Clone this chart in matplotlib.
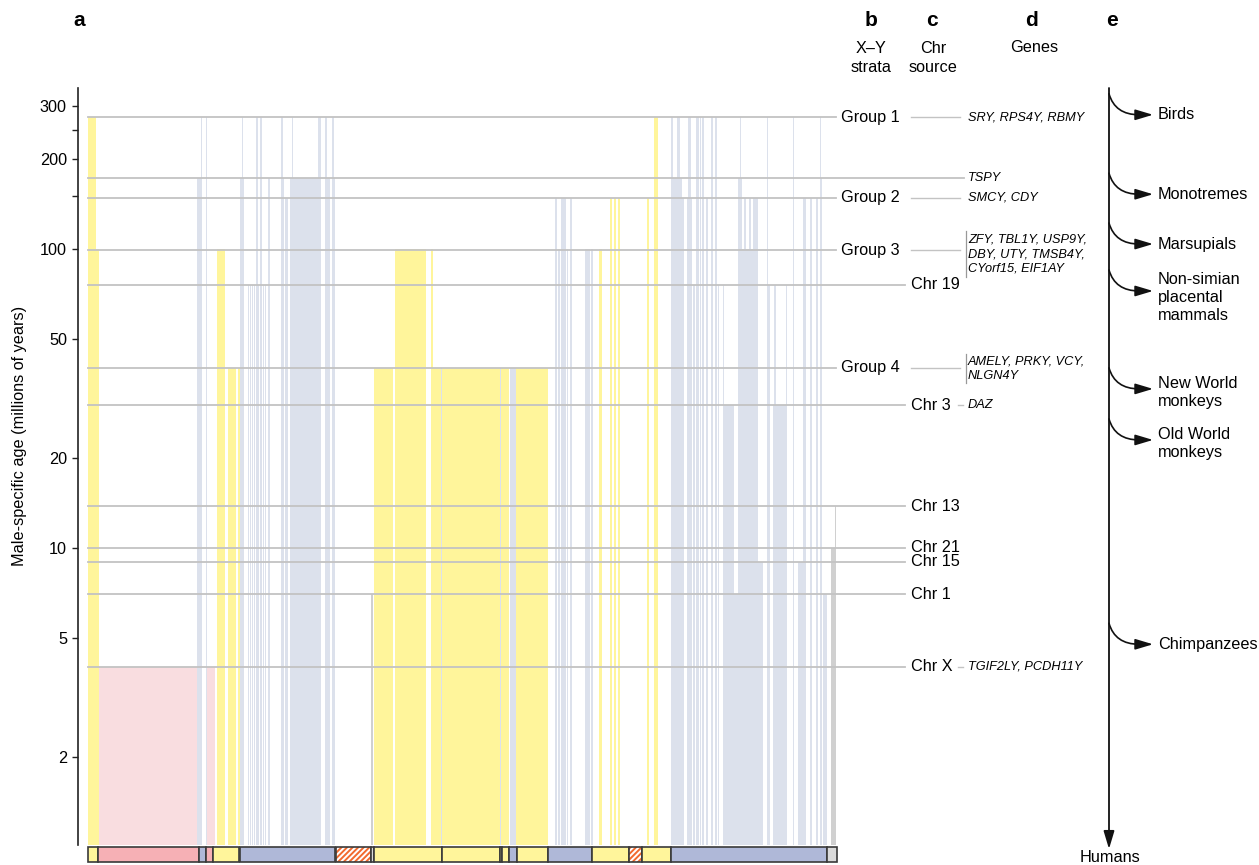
import matplotlib
matplotlib.use("Agg")
import matplotlib.pyplot as plt
from matplotlib import transforms
from matplotlib.patches import Rectangle, FancyArrowPatch
from matplotlib.path import Path
from matplotlib.ticker import FixedLocator, NullFormatter

plt.rcParams['font.family'] = ['Liberation Sans', 'DejaVu Sans']
plt.rcParams['hatch.linewidth'] = 1.4

# ---------------------------------------------------------------------------
# Y-chromosome segments: map position (start, end), male-specific age (Myr),
# sequence class (xdg = X-degenerate, amp = ampliconic, xtr = X-transposed,
# oth = other)
seg_start = [0, 8, 11, 109, 113, 118, 119, 129, 140, 150, 152, 154, 160, 162,
             164, 166, 168, 170, 172, 175, 177, 180, 193, 193, 197, 202, 204,
             230, 237, 244, 244, 237, 283, 286, 307, 343, 343, 353, 354, 412,
             413, 422, 428, 467, 470, 473, 479, 482, 497, 503, 511, 522, 526,
             530, 559, 566, 583, 585, 589, 592, 594, 599, 600, 605, 608, 612,
             614, 618, 623, 627, 630, 635, 635, 646, 650, 652, 654, 656, 658,
             661, 663, 665, 664, 679, 679, 685, 686, 698, 705, 710, 715, 722,
             728, 732, 733, 735, 743, 747]
seg_end = [8, 11, 109, 114, 114, 119, 127, 137, 148, 152, 156, 155, 161, 163,
           165, 167, 170, 171, 174, 176, 178, 182, 196, 195, 200, 233, 205,
           233, 242, 247, 246, 239, 285, 305, 338, 345, 353, 354, 412, 413,
           421, 428, 460, 469, 472, 478, 480, 484, 502, 505, 514, 524, 528,
           532, 561, 570, 585, 589, 592, 594, 596, 604, 603, 607, 611, 613,
           616, 620, 625, 629, 631, 646, 636, 650, 654, 653, 656, 658, 661,
           663, 665, 670, 675, 680, 682, 699, 688, 699, 706, 718, 718, 724,
           730, 733, 734, 739, 747, 748]
seg_age = [275, 100, 4, 172, 275, 275, 4, 100, 40, 40, 172, 275, 76, 76,
           76, 76, 275, 76, 275, 76, 76, 172, 172, 275, 148, 172, 275,
           275, 172, 172, 275, 275, 7, 40, 100, 100, 40, 40, 40, 40,
           40, 40, 40, 148, 100, 148, 100, 148, 100, 100, 100, 148, 148,
           148, 148, 275, 275, 172, 275, 172, 148, 148, 275, 76, 275, 275,
           275, 148, 275, 275, 76, 30, 76, 7, 172, 275, 100, 148, 100,
           148, 100, 148, 9, 275, 76, 30, 76, 76, 275, 9, 148, 148,
           148, 275, 172, 7, 10, 13.8]
seg_class = ['xdg', 'xdg', 'xtr', 'amp', 'amp', 'amp', 'xtr', 'xdg', 'xdg',
             'xdg', 'amp', 'amp', 'amp', 'amp', 'amp', 'amp', 'amp', 'amp',
             'amp', 'amp', 'amp', 'amp', 'amp', 'amp', 'amp', 'amp', 'amp',
             'amp', 'amp', 'amp', 'amp', 'amp', 'oth', 'xdg', 'xdg', 'xdg',
             'xdg', 'amp', 'xdg', 'amp', 'xdg', 'amp', 'xdg', 'amp', 'amp',
             'amp', 'amp', 'amp', 'amp', 'amp', 'xdg', 'xdg', 'xdg', 'xdg',
             'xdg', 'xdg', 'amp', 'amp', 'amp', 'amp', 'amp', 'amp', 'amp',
             'amp', 'amp', 'amp', 'amp', 'amp', 'amp', 'amp', 'amp', 'amp',
             'amp', 'amp', 'amp', 'amp', 'amp', 'amp', 'amp', 'amp', 'amp',
             'amp', 'amp', 'amp', 'amp', 'amp', 'amp', 'amp', 'amp', 'amp',
             'amp', 'amp', 'amp', 'amp', 'amp', 'amp', 'oth', 'oth']

# Sequence-class map drawn beneath the chromosome (het = heterochromatin)
map_start = [0, 10, 111, 118, 125, 152, 248, 283, 286, 354, 412, 414, 421,
             429, 460, 504, 541, 554, 583, 739]
map_end = [10, 111, 118, 125, 151, 247, 283, 286, 354, 412, 414, 421, 429,
           460, 504, 541, 554, 583, 739, 749]
map_class = ['xdg', 'xtr', 'amp', 'xtr', 'xdg', 'amp', 'het', 'oth', 'xdg',
             'xdg', 'xdg', 'xdg', 'amp', 'xdg', 'amp', 'xdg', 'het', 'xdg',
             'amp', 'oth']

# X-Y strata and the genes they carry
strata_labels = ['Group 1', 'Group 2', 'Group 3', 'Group 4']
strata_ages = [275, 148, 99, 40]
strata_genes = ['SRY, RPS4Y, RBMY', 'SMCY, CDY',
                'ZFY, TBL1Y, USP9Y,\nDBY, UTY, TMSB4Y,\nCYorf15, EIF1AY',
                'AMELY, PRKY, VCY,\nNLGN4Y']

# Autosomal / X sources of transposed sequence
source_labels = ['Chr 19', 'Chr 3', 'Chr 13', 'Chr 21', 'Chr 15', 'Chr 1',
                 'Chr X']
source_ages = [76, 30, 13.8, 10, 9.0, 7, 4]
source_genes = ['', 'DAZ', '', '', '', '', 'TGIF2LY, PCDH11Y']

tspy_age = 172

# Lineage divergences along the human branch
clade_labels = ['Birds', 'Monotremes', 'Marsupials',
                'Non-simian\nplacental\nmammals', 'New World\nmonkeys',
                'Old World\nmonkeys', 'Chimpanzees']
clade_ages = [330, 179, 122, 85, 40, 27, 5.6]

age_ticks = [2, 5, 10, 20, 50, 100, 200, 300]
age_minor_ticks = [150, 250]

# ---------------------------------------------------------------------------
bar_colors = {'xdg': '#FFF59B', 'amp': '#DCE1EC', 'xtr': '#F9DDE0',
              'oth': '#D0D0D0'}
map_colors = {'xdg': '#FFF59B', 'amp': '#AFB8D8', 'xtr': '#F6B0B5',
              'oth': '#DADADA', 'het': 'white'}
LINE_GREY = '#C3C3C3'
FS = 11.7

W, H = 1259, 865
fig = plt.figure(figsize=(W / 100, H / 100), dpi=100)


def box(x0, y0, x1, y1):
    return [x0 / W, 1 - y1 / H, (x1 - x0) / W, (y1 - y0) / H]


ax = fig.add_axes(box(78, 88, 838, 845))
ax.set_yscale('log')
ax.set_xlim(-10, 750)
ax.set_ylim(1.016, 345)
floor = 1.0
for s, e, a, c in zip(seg_start, seg_end, seg_age, seg_class):
    ax.bar(s, a - floor, width=e - s, bottom=floor, align='edge',
           color=bar_colors[c], linewidth=0)

ax.yaxis.set_major_locator(FixedLocator(age_ticks))
ax.set_yticklabels([str(t) for t in age_ticks])
ax.yaxis.set_minor_locator(FixedLocator(age_minor_ticks))
ax.yaxis.set_minor_formatter(NullFormatter())
ax.tick_params(axis='y', which='both', direction='out', length=4.5,
               width=1.0, pad=3.5, labelsize=FS, color='#222222')
ax.set_xticks([])
for side in ('top', 'right', 'bottom'):
    ax.spines[side].set_visible(False)
ax.spines['left'].set_linewidth(1.2)
ax.spines['left'].set_color('#222222')

# Sequence-class strip
st = fig.add_axes(box(78, 847, 838, 862))
st.set_xlim(ax.get_xlim())
st.set_ylim(0, 1)
st.axis('off')
for s, e, c in zip(map_start, map_end, map_class):
    if c == 'het':
        st.add_patch(Rectangle((s, 0), e - s, 1, facecolor='white',
                               edgecolor='#F26A2E', hatch='//////', lw=0))
        st.add_patch(Rectangle((s, 0), e - s, 1, facecolor='none',
                               edgecolor='#3a3a3a', lw=1.2, clip_on=False))
    else:
        st.add_patch(Rectangle((s, 0), e - s, 1, facecolor=map_colors[c],
                               edgecolor='#3a3a3a', lw=1.2, clip_on=False))

# Overlay for annotations: x in figure pixels, y from the age axis
ov = fig.add_axes([0, 0, 1, 1])
ov.set_xlim(0, W)
ov.set_ylim(H, 0)
ov.set_autoscale_on(False)
ov.axis('off')
ov.patch.set_visible(False)
bt = transforms.blended_transform_factory(ov.transData, ax.transData)


def age_px(age):
    return ov.transData.inverted().transform(
        ax.transData.transform((0, age)))[1]


for lab, age, genes in zip(strata_labels, strata_ages, strata_genes):
    ov.plot([88, 836], [age, age], color=LINE_GREY, lw=1.3, transform=bt)
    ov.text(841, age, lab, transform=bt, ha='left', va='center', fontsize=FS)
    ov.plot([911, 960], [age, age], color=LINE_GREY, lw=1.0, transform=bt)
    nl = genes.count('\n') + 1
    yp = age_px(age)
    if nl > 1:
        off = 4 if nl == 3 else 1
        half = 8.3 * nl
        ov.plot([966, 966], [yp + off - half + 2, yp + off + half - 2],
                color='#999999', lw=0.9)
        ov.text(968, yp + off, genes, ha='left', va='center', fontsize=9.2,
                style='italic', linespacing=1.3)
    else:
        ov.text(968, yp, genes, ha='left', va='center', fontsize=9.2,
                style='italic')

ov.plot([88, 964], [tspy_age, tspy_age], color=LINE_GREY, lw=1.3,
        transform=bt)
ov.text(968, tspy_age, 'TSPY', transform=bt, ha='left', va='center',
        fontsize=9.2, style='italic')

for lab, age, genes in zip(source_labels, source_ages, source_genes):
    ov.plot([88, 905], [age, age], color=LINE_GREY, lw=1.3, transform=bt)
    ov.text(911, age, lab, transform=bt, ha='left', va='center', fontsize=FS)
    if genes:
        ov.plot([958, 963], [age, age], color=LINE_GREY, lw=1.0, transform=bt)
        ov.text(968, age, genes, transform=bt, ha='left', va='center',
                fontsize=9.2, style='italic')

# Panel letters and column headers
for x, letter in zip([79, 871, 932, 1032, 1112], 'abcde'):
    ov.text(x, 21, letter, ha='center', va='center', fontsize=15,
            fontweight='bold')
ov.text(871, 58, 'X\u2013Y\nstrata', ha='center', va='center', fontsize=FS,
        linespacing=1.3)
ov.text(933, 58, 'Chr\nsource', ha='center', va='center', fontsize=FS,
        linespacing=1.3)
ov.text(1034, 48, 'Genes', ha='center', va='center', fontsize=FS)
ov.text(20, 436, 'Male-specific age (millions of years)', rotation=90,
        ha='center', va='center', fontsize=FS)

# Lineage tree
TREE_X = 1109
ARROW = '-|>,head_length=0.6,head_width=0.18'
ov.add_patch(FancyArrowPatch((TREE_X, 88), (TREE_X, 849), arrowstyle=ARROW,
                             mutation_scale=18, lw=1.3, color='#111111',
                             shrinkA=0, shrinkB=0))
ov.text(TREE_X + 1, 857, 'Humans', ha='center', va='center', fontsize=FS)
for lab, age in zip(clade_labels, clade_ages):
    y0 = age_px(age)
    y1 = y0 + 21
    verts = [(TREE_X, y0), (TREE_X + 6, y1), (TREE_X + 30, y1),
             (TREE_X + 44, y1)]
    codes = [Path.MOVETO, Path.CURVE3, Path.CURVE3, Path.LINETO]
    ov.add_patch(FancyArrowPatch(path=Path(verts, codes), arrowstyle=ARROW,
                                 mutation_scale=18, lw=1.2, color='#111111'))
    nl = lab.count('\n') + 1
    ty = y1 if nl == 1 else y1 + (7 if nl == 3 else 4)
    ov.text(1158, ty, lab, ha='left', va='center', fontsize=FS,
            linespacing=1.25)

fig.savefig('out.png', dpi=100)
